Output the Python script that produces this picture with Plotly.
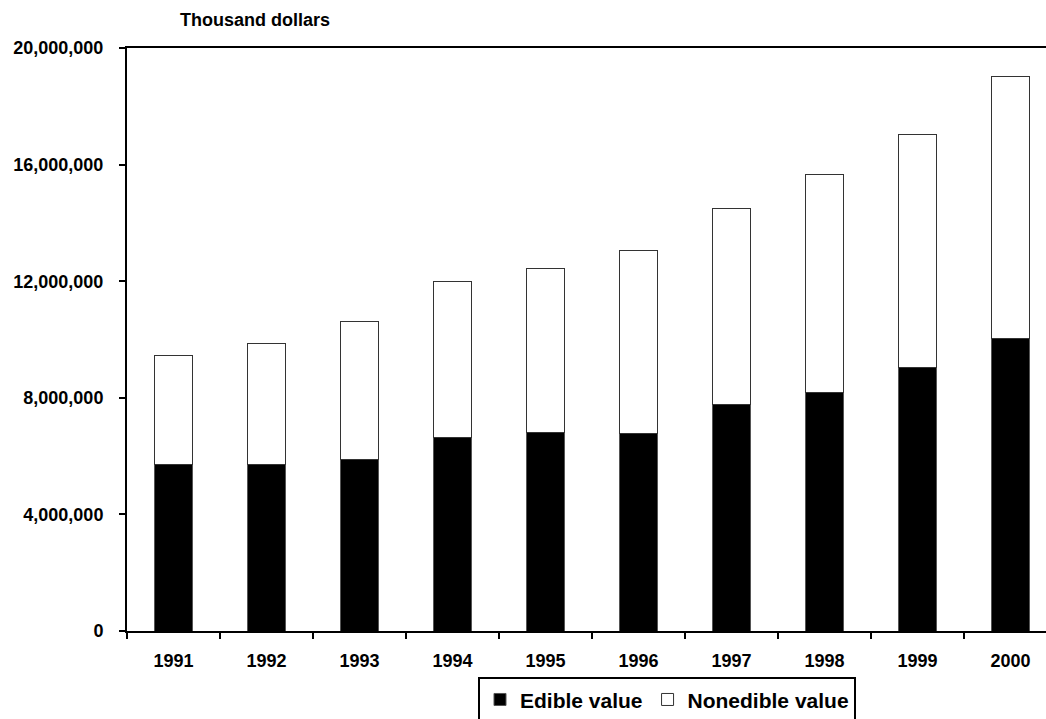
import plotly.graph_objects as go

years = ["1991", "1992", "1993", "1994", "1995", "1996", "1997", "1998", "1999", "2000"]
edible_value = [5710000, 5710000, 5870000, 6640000, 6810000, 6760000, 7780000, 8190000, 9040000, 10050000]
nonedible_value = [3730000, 4170000, 4750000, 5350000, 5630000, 6300000, 6730000, 7460000, 8000000, 8980000]
y_ticks = [0, 4000000, 8000000, 12000000, 16000000, 20000000]

FONT = "Liberation Sans, Arial, sans-serif"

fig = go.Figure()
fig.add_trace(go.Bar(
    x=years, y=edible_value, name="Edible value",
    marker=dict(color="black", line=dict(color="#555555", width=1)),
))
fig.add_trace(go.Bar(
    x=years, y=nonedible_value, name="Nonedible value",
    marker=dict(color="white", line=dict(color="#333333", width=1)),
))

W, H = 1046, 719
ml, mr, mt, mb = 127, 0, 48, 88
cat_w = 93.0
plot_w = W - ml - mr
x_max = -0.5 + plot_w / cat_w

fig.update_layout(
    width=W, height=H,
    barmode="stack",
    bargap=0.59,
    plot_bgcolor="white",
    paper_bgcolor="white",
    font=dict(family=FONT, size=18, color="black", weight="bold"),
    margin=dict(l=ml, r=mr, t=mt, b=mb, autoexpand=False),
    showlegend=True,
    legend=dict(
        orientation="h",
        x=(478 - ml) / plot_w, xanchor="left",
        y=(631 - 677.3) / (631 - 48.3), yanchor="top",
        bordercolor="black", borderwidth=2,
        font=dict(family=FONT, size=21, color="black", weight="bold"),
        itemwidth=30,
        traceorder="normal",
        bgcolor="white",
    ),
    annotations=[dict(
        text="Thousand dollars",
        xref="paper", yref="paper",
        x=(254.5 - ml) / plot_w, y=1 + 27.6 / (631 - 48.3),
        xanchor="center", yanchor="middle",
        showarrow=False,
        font=dict(family=FONT, size=18, color="black", weight="bold"),
    )],
)

fig.update_xaxes(
    type="category",
    range=[-0.5, x_max],
    showline=True, linecolor="black", linewidth=2,
    mirror=True,
    ticks="outside", ticklen=6, tickwidth=2, tickcolor="black",
    tickson="boundaries",
    showgrid=False, zeroline=False,
    ticklabelstandoff=12,
    tickfont=dict(family=FONT, size=18, color="black", weight="bold"),
)
fig.update_yaxes(
    range=[0, 20000000],
    tickvals=y_ticks,
    tickformat=",d",
    showline=True, linecolor="black", linewidth=2,
    ticks="outside", ticklen=6, tickwidth=2, tickcolor="black",
    showgrid=False, zeroline=False,
    ticklabelstandoff=12,
    tickfont=dict(family=FONT, size=18, color="black", weight="bold"),
)

fig.write_html(
    "out.html",
    config={"displayModeBar": False},
    post_script="document.body.style.margin='0';document.body.style.overflow='hidden';",
)
